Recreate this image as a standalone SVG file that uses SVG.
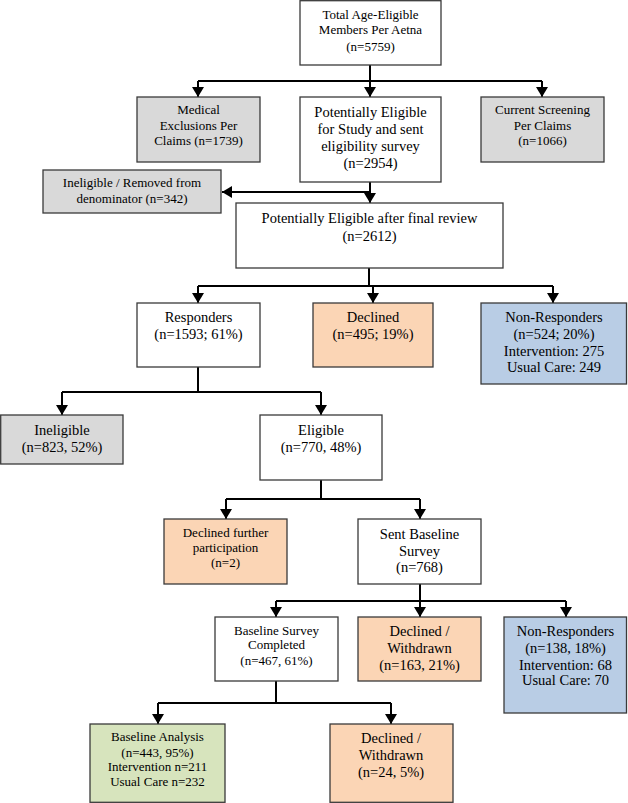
<svg xmlns="http://www.w3.org/2000/svg" width="628" height="803" viewBox="0 0 628 803" font-family="Liberation Serif, Times New Roman, serif">
<defs>
<marker id="ah" markerUnits="userSpaceOnUse" markerWidth="10" markerHeight="12" viewBox="0 0 10 12" refX="10" refY="6" orient="auto"><path d="M0,0 L10,6 L0,12 z" fill="#000"/></marker>
<style>
.b{stroke:#3a3a3a;stroke-width:1.3}
.w{fill:#fff}.g{fill:#d9d9d9}.o{fill:#fbd5b5}.bl{fill:#b9cde5}.gr{fill:#d7e4bd}
text{font-family:'Liberation Serif','Times New Roman',serif;fill:#000;text-anchor:middle}
.s{font-size:13px}.l{font-size:14.5px}
.c path{fill:none;stroke:#000;stroke-width:2}
.c .a{marker-end:url(#ah)}
</style>
</defs>
<rect width="628" height="803" fill="#fff"/>
<g class="c" id="connectors">
<path d="M370 65V81M198 81H542"/>
<path class="a" d="M198 81V97"/><path class="a" d="M370 81V97"/><path class="a" d="M542 81V97"/>
<path class="a" d="M370 182V203"/><path class="a" d="M370 192H222"/>
<path d="M369 268V286M198 286H553"/>
<path class="a" d="M198 286V303"/><path class="a" d="M373 286V303"/><path class="a" d="M553 286V303"/>
<path d="M198 367V392M62 392H321"/>
<path class="a" d="M62 392V415"/><path class="a" d="M321 392V415"/>
<path d="M321 480V499M226 499H420"/>
<path class="a" d="M226 499V519"/><path class="a" d="M420 499V519"/>
<path d="M420 584V601M276 601H566"/>
<path class="a" d="M276 601V617"/><path class="a" d="M420 601V617"/><path class="a" d="M566 601V617"/>
<path d="M276 681V703M158 703H391"/>
<path class="a" d="M158 703V724"/><path class="a" d="M391 703V724"/>
</g>
<g id="total"><rect class="b w" x="300" y="0.7" width="141" height="64.3"/>
<text class="s" x="370.5" y="19">Total Age-Eligible</text><text class="s" x="370.5" y="34">Members Per Aetna</text><text class="s" x="370.5" y="51">(n=5759)</text></g>
<g id="medical"><rect class="b g" x="137" y="97" width="123" height="65"/>
<text class="s" x="198.5" y="114">Medical</text><text class="s" x="198.5" y="130">Exclusions Per</text><text class="s" x="198.5" y="145">Claims (n=1739)</text></g>
<g id="potential"><rect class="b w" x="300" y="97" width="141" height="85"/>
<text class="l" x="370.5" y="117">Potentially Eligible</text><text class="l" x="370.5" y="134">for Study and sent</text><text class="l" x="370.5" y="151">eligibility survey</text><text class="l" x="370.5" y="168">(n=2954)</text></g>
<g id="current"><rect class="b g" x="481" y="97" width="123" height="65"/>
<text class="s" x="542.5" y="114">Current Screening</text><text class="s" x="542.5" y="130">Per Claims</text><text class="s" x="542.5" y="145">(n=1066)</text></g>
<g id="removed"><rect class="b g" x="43" y="170" width="178" height="43"/>
<text class="s" x="132" y="187">Ineligible / Removed from</text><text class="s" x="132" y="203">denominator (n=342)</text></g>
<g id="final"><rect class="b w" x="236" y="203" width="267" height="65"/>
<text class="l" x="369.5" y="223">Potentially Eligible after final review</text><text class="l" x="369.5" y="241">(n=2612)</text></g>
<g id="responders"><rect class="b w" x="137" y="303" width="123" height="64"/>
<text class="l" x="198.5" y="322">Responders</text><text class="l" x="198.5" y="339">(n=1593; 61%)</text></g>
<g id="declined1"><rect class="b o" x="313" y="303" width="120" height="64"/>
<text class="l" x="373" y="322">Declined</text><text class="l" x="373" y="339">(n=495; 19%)</text></g>
<g id="nonresp1"><rect class="b bl" x="481" y="303" width="145.5" height="81"/>
<text class="l" x="554" y="322">Non-Responders</text><text class="l" x="554" y="339">(n=524; 20%)</text><text class="l" x="554" y="356">Intervention: 275</text><text class="l" x="554" y="372">Usual Care: 249</text></g>
<g id="ineligible"><rect class="b g" x="0.7" y="415" width="122.3" height="49"/>
<text class="l" x="62" y="435">Ineligible</text><text class="l" x="62" y="452">(n=823, 52%)</text></g>
<g id="eligible"><rect class="b w" x="260" y="415" width="122" height="65"/>
<text class="l" x="321" y="435">Eligible</text><text class="l" x="321" y="452">(n=770, 48%)</text></g>
<g id="declinedfurther"><rect class="b o" x="164" y="519" width="123" height="65"/>
<text class="s" x="225.5" y="537">Declined further</text><text class="s" x="225.5" y="552">participation</text><text class="s" x="225.5" y="567">(n=2)</text></g>
<g id="sent"><rect class="b w" x="358" y="519" width="123" height="65"/>
<text class="l" x="419.5" y="539">Sent Baseline</text><text class="l" x="419.5" y="556">Survey</text><text class="l" x="419.5" y="572">(n=768)</text></g>
<g id="completed"><rect class="b w" x="215" y="617" width="123" height="64"/>
<text class="s" x="276.5" y="635">Baseline Survey</text><text class="s" x="276.5" y="649">Completed</text><text class="s" x="276.5" y="665">(n=467, 61%)</text></g>
<g id="declined2"><rect class="b o" x="358" y="617" width="123" height="64"/>
<text class="l" x="419.5" y="636">Declined /</text><text class="l" x="419.5" y="653">Withdrawn</text><text class="l" x="419.5" y="670">(n=163, 21%)</text></g>
<g id="nonresp2"><rect class="b bl" x="504" y="617" width="122.5" height="96"/>
<text class="l" x="565.5" y="636">Non-Responders</text><text class="l" x="565.5" y="653">(n=138, 18%)</text><text class="l" x="565.5" y="670">Intervention: 68</text><text class="l" x="565.5" y="685">Usual Care: 70</text></g>
<g id="analysis"><rect class="b gr" x="90" y="724" width="135" height="78.3"/>
<text class="s" x="157.5" y="741">Baseline Analysis</text><text class="s" x="157.5" y="757">(n=443, 95%)</text><text class="s" x="157.5" y="771">Intervention n=211</text><text class="s" x="157.5" y="786">Usual Care n=232</text></g>
<g id="declined3"><rect class="b o" x="330" y="724" width="123" height="78.3"/>
<text class="l" x="391" y="743">Declined /</text><text class="l" x="391" y="760">Withdrawn</text><text class="l" x="391" y="777">(n=24, 5%)</text></g>
</svg>
